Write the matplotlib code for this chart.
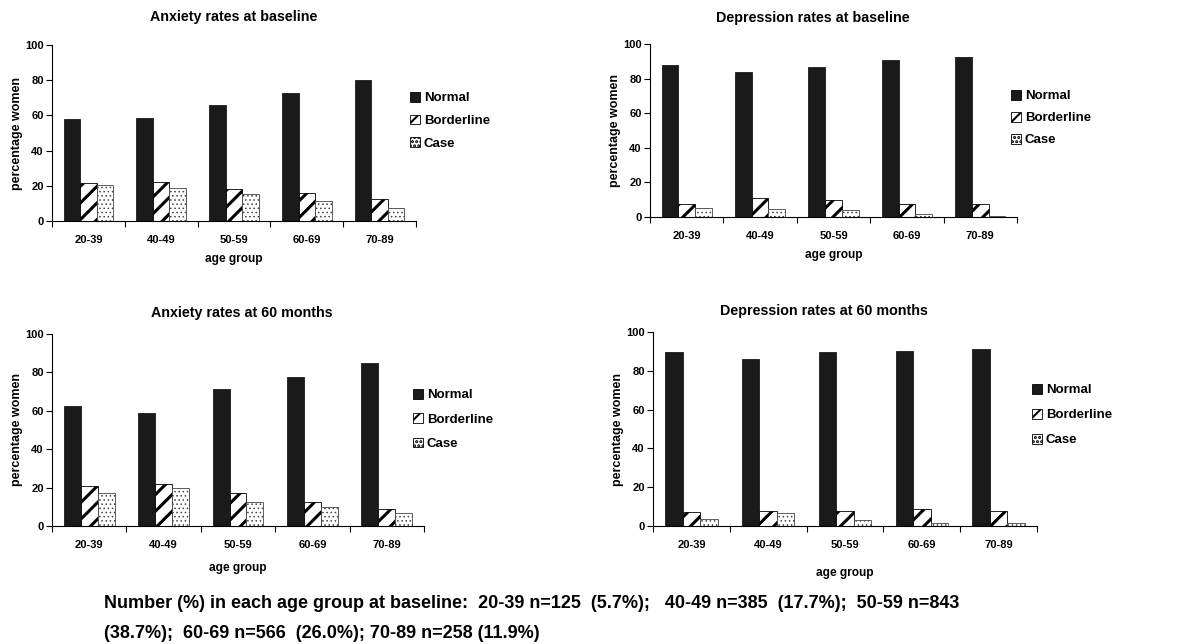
import matplotlib
matplotlib.use('Agg')
import matplotlib.pyplot as plt
from matplotlib.patches import Patch
import numpy as np

plt.rcParams['font.family'] = ['Liberation Sans', 'DejaVu Sans']
plt.rcParams['font.weight'] = 'bold'

age_groups = ['20-39', '40-49', '50-59', '60-69', '70-89']
series = ['Normal', 'Borderline', 'Case']

anx_base_normal = [57.7, 58.6, 65.8, 72.5, 79.9]
anx_base_border = [21.6, 22.4, 18.2, 16.1, 12.7]
anx_base_case = [20.7, 19.0, 15.6, 11.2, 7.4]

dep_base_normal = [88.1, 84.0, 86.9, 90.6, 92.3]
dep_base_border = [7.5, 11.2, 9.6, 7.5, 7.5]
dep_base_case = [5.4, 4.6, 4.2, 1.9, 0.8]

anx_60_normal = [62.4, 58.6, 71.1, 77.7, 84.7]
anx_60_border = [20.9, 21.9, 17.2, 12.7, 9.0]
anx_60_case = [17.2, 19.8, 12.7, 10.1, 7.0]

dep_60_normal = [89.5, 86.0, 89.5, 90.0, 91.2]
dep_60_border = [7.2, 7.8, 7.8, 8.8, 7.8]
dep_60_case = [3.8, 6.6, 3.3, 1.7, 1.7]

titles = ['Anxiety rates at baseline', 'Depression rates at baseline',
          'Anxiety rates at 60 months', 'Depression rates at 60 months']

W, H = 1204, 644
fig = plt.figure(figsize=(W / 100, H / 100), dpi=100)

# panel boxes in pixels: left, top, right, bottom
boxes = [(52, 45, 416, 221), (650, 44, 1017, 217),
         (52, 334, 424, 526), (653, 332, 1037, 526)]
title_pos = [(234, 17), (813, 18), (242, 313), (824, 311)]
legend_pos = [(410, 92), (1011, 90), (413, 389), (1032, 384)]
legend_gap = [0.78, 0.72, 0.9, 0.95]
xlabel_pad = [6, 6, 9, 12]
panel_data = [
    (anx_base_normal, anx_base_border, anx_base_case),
    (dep_base_normal, dep_base_border, dep_base_case),
    (anx_60_normal, anx_60_border, anx_60_case),
    (dep_60_normal, dep_60_border, dep_60_case),
]

styles = [dict(color='#1a1a1a', edgecolor='#1a1a1a'),
          dict(color='white', edgecolor='black', hatch='//'),
          dict(color='white', edgecolor='#444444', hatch='....')]
hatch_lw = [1.0, 2.2, 0.6]


def set_hlw(patch, lw):
    if hasattr(patch, 'set_hatch_linewidth'):
        patch.set_hatch_linewidth(lw)
    else:
        patch._hatch_linewidth = lw


x = np.arange(len(age_groups))
w = 0.228

for i, (box, vals) in enumerate(zip(boxes, panel_data)):
    l, t, r, b = box
    ax = fig.add_axes([l / W, 1 - b / H, (r - l) / W, (b - t) / H])
    for k, v in enumerate(vals):
        with plt.rc_context({'hatch.linewidth': hatch_lw[k]}):
            bars = ax.bar(x + (k - 1) * w, v, w, linewidth=0.6, **styles[k])
        for p in bars:
            set_hlw(p, hatch_lw[k])
    ax.set_xlim(-0.5, len(age_groups) - 0.5)
    ax.set_ylim(0, 100)
    ax.set_yticks(range(0, 101, 20))
    ax.set_xticks(x)
    ax.set_xticklabels(age_groups, fontsize=8, fontweight='bold')
    ax.set_xticks(np.arange(-0.5, len(age_groups)), minor=True)
    ax.tick_params(axis='x', which='major', length=0, pad=10)
    ax.tick_params(axis='x', which='minor', length=4, width=0.8, direction='out')
    ax.tick_params(axis='y', length=4, width=0.8, pad=2, labelsize=8)
    for lab in ax.get_yticklabels():
        lab.set_fontweight('bold')
    for s in ['top', 'right']:
        ax.spines[s].set_visible(False)
    for s in ['left', 'bottom']:
        ax.spines[s].set_linewidth(0.8)
    ax.set_xlabel('age group', fontsize=8.6, fontweight='bold',
                  labelpad=xlabel_pad[i])
    ax.set_ylabel('percentage women', fontsize=9, fontweight='bold')
    ax.yaxis.set_label_coords(-29 / (r - l), 0.5)

    tx, ty = title_pos[i]
    fig.text(tx / W, 1 - ty / H, titles[i], ha='center', va='center',
             fontsize=10.3, fontweight='bold')

    handles = []
    for k in range(3):
        with plt.rc_context({'hatch.linewidth': hatch_lw[k]}):
            hp = Patch(facecolor=styles[k]['color'], edgecolor='black',
                       hatch=styles[k].get('hatch'), linewidth=0.6,
                       label=series[k])
        set_hlw(hp, hatch_lw[k])
        handles.append(hp)
    lx, ly = legend_pos[i]
    with plt.rc_context({'hatch.linewidth': 1.5}):
        fig.legend(handles=handles, loc='upper left',
                   bbox_to_anchor=(lx / W, 1 - ly / H), frameon=False,
                   handlelength=0.75, handleheight=0.75,
                   handletextpad=0.3, labelspacing=legend_gap[i], borderpad=0,
                   borderaxespad=0, prop={'weight': 'bold', 'size': 9.5})

foot = ['Number (%) in each age group at baseline:  20-39 n=125  (5.7%);   '
        '40-49 n=385  (17.7%);  50-59 n=843',
        '(38.7%);  60-69 n=566  (26.0%); 70-89 n=258 (11.9%)']
for j, yy in enumerate([604, 633]):
    fig.text(104 / W, 1 - yy / H, foot[j], ha='left', va='center',
             fontsize=13, fontweight='bold')

fig.savefig('out.png', dpi=100)
